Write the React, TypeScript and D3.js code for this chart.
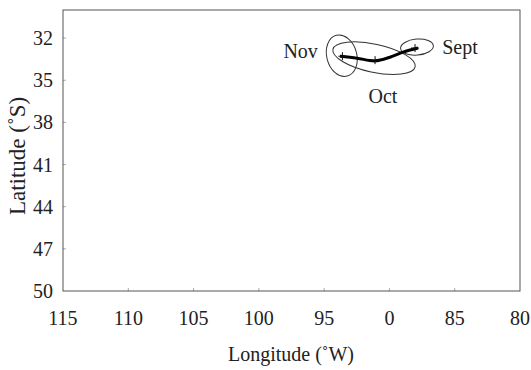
import React, { useEffect, useRef } from "react";
import { select, scaleLinear, line, curveCatmullRom } from "d3";

// axis ticks
const lonTicks = [115, 110, 105, 100, 95, 90, 85, 80];
const lonTickLabels = ["115", "110", "105", "100", "95", "0", "85", "80"];
const latTicks = [32, 35, 38, 41, 44, 47, 50];

// mean track (lon W, lat S)
const trackLon = [93.79, 92.48, 91.1, 89.96, 88.96, 87.81];
const trackLat = [33.29, 33.43, 33.62, 33.36, 33.0, 32.71];

// monthly centres + spread ellipses
const months = ["Nov", "Oct", "Sept"];
const meanLon = [93.6, 91.1, 88.04];
const meanLat = [33.29, 33.57, 32.71];
const ellLon = [93.65, 91.18, 87.89];
const ellLat = [33.25, 33.43, 32.64];
const ellRLon = [1.15, 3.22, 1.26];
const ellRLat = [1.5, 1.0, 0.57];
const ellAngle = [-15, 12, -5];
const labelLon = [96.8, 90.5, 84.6];
const labelLat = [32.95, 36.1, 32.6];

const W = 531;
const H = 370;
const margin = { top: 10, right: 11, bottom: 79, left: 63 };
const FONT = "Liberation Serif, Times New Roman, Times, serif";

const App = () => {
  const svgRef = useRef(null);

  useEffect(() => {
    const svg = select(svgRef.current);
    svg.selectAll("*").remove();

    const x = scaleLinear()
      .domain([115, 80])
      .range([margin.left, W - margin.right]);
    const y = scaleLinear()
      .domain([30, 50])
      .range([margin.top, H - margin.bottom]);

    // inward ticks
    const g = svg.append("g");
    g.selectAll(".xt")
      .data(lonTicks.slice(1, -1))
      .join("line")
      .attr("x1", (d) => x(d))
      .attr("x2", (d) => x(d))
      .attr("y1", y(50))
      .attr("y2", y(50) - 3)
      .attr("stroke", "#aaa");
    g.selectAll(".yt")
      .data(latTicks.slice(0, -1))
      .join("line")
      .attr("x1", x(115))
      .attr("x2", x(115) + 3)
      .attr("y1", (d) => y(d))
      .attr("y2", (d) => y(d))
      .attr("stroke", "#aaa");

    // frame
    svg
      .append("rect")
      .attr("x", x(115))
      .attr("y", y(30))
      .attr("width", x(80) - x(115))
      .attr("height", y(50) - y(30))
      .attr("fill", "none")
      .attr("stroke", "#555")
      .attr("stroke-width", 1);

    const txt = (sel, size = 20) =>
      sel.style("font-family", FONT).style("font-size", size + "px").attr("fill", "#222");

    // tick labels
    svg
      .append("g")
      .selectAll("text")
      .data(lonTicks)
      .join("text")
      .attr("x", (d) => x(d))
      .attr("y", y(50) + 34)
      .attr("text-anchor", "middle")
      .call(txt)
      .text((d, i) => lonTickLabels[i]);
    svg
      .append("g")
      .selectAll("text")
      .data(latTicks)
      .join("text")
      .attr("x", x(115) - 10)
      .attr("y", (d) => y(d))
      .attr("dy", "0.35em")
      .attr("text-anchor", "end")
      .call(txt)
      .text((d) => d);

    // axis titles
    svg
      .append("text")
      .attr("x", 291)
      .attr("y", 361)
      .attr("text-anchor", "middle")
      .call(txt)
      .text("Longitude (\u02DAW)");
    svg
      .append("text")
      .attr("transform", "translate(25,156) rotate(-90)")
      .attr("text-anchor", "middle")
      .call(txt, 23)
      .text("Latitude (\u02DAS)");

    // ellipses
    svg
      .append("g")
      .selectAll("ellipse")
      .data(months)
      .join("ellipse")
      .attr("cx", 0)
      .attr("cy", 0)
      .attr("rx", (d, i) => Math.abs(x(ellLon[i] - ellRLon[i]) - x(ellLon[i])))
      .attr("ry", (d, i) => Math.abs(y(ellLat[i] + ellRLat[i]) - y(ellLat[i])))
      .attr(
        "transform",
        (d, i) =>
          `translate(${x(ellLon[i])},${y(ellLat[i])}) rotate(${ellAngle[i]})`
      )
      .attr("fill", "none")
      .attr("stroke", "#333")
      .attr("stroke-width", 1);

    // mean track
    const pts = trackLon.map((lon, i) => [lon, trackLat[i]]);
    svg
      .append("path")
      .attr(
        "d",
        line()
          .x((d) => x(d[0]))
          .y((d) => y(d[1]))
          .curve(curveCatmullRom)(pts)
      )
      .attr("fill", "none")
      .attr("stroke", "#000")
      .attr("stroke-width", 3);

    // monthly mean markers
    const cross = svg.append("g").attr("stroke", "#111").attr("stroke-width", 1);
    months.forEach((m, i) => {
      const cx = x(meanLon[i]);
      const cy = y(meanLat[i]);
      cross.append("line").attr("x1", cx - 4).attr("x2", cx + 4).attr("y1", cy).attr("y2", cy);
      cross.append("line").attr("x1", cx).attr("x2", cx).attr("y1", cy - 4).attr("y2", cy + 4);
    });

    // month labels
    svg
      .append("g")
      .selectAll("text")
      .data(months)
      .join("text")
      .attr("x", (d, i) => x(labelLon[i]))
      .attr("y", (d, i) => y(labelLat[i]))
      .attr("dy", "0.35em")
      .attr("text-anchor", "middle")
      .call(txt)
      .text((d) => d);
  }, []);

  return (
    <svg
      ref={svgRef}
      width={W}
      height={H}
      style={{ position: "absolute", left: 0, top: 0, background: "#fff" }}
    ></svg>
  );
};

export default App;
